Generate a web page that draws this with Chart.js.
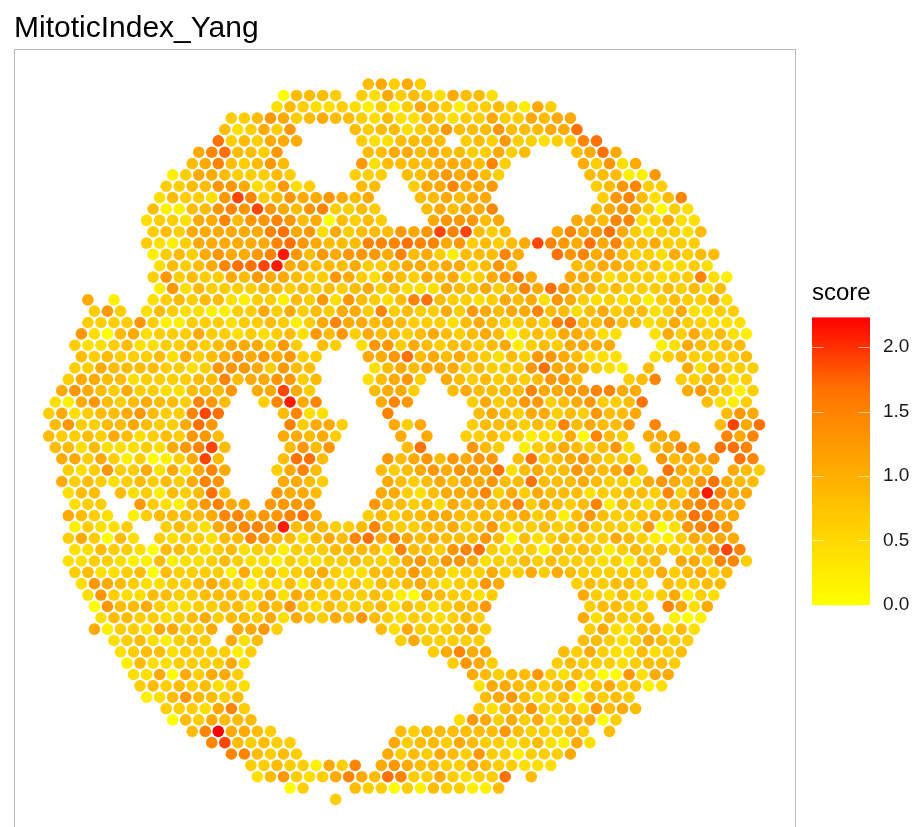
<!DOCTYPE html>
<html>
<head>
<meta charset="utf-8">
<title>MitoticIndex_Yang</title>
<script src="https://cdn.jsdelivr.net/npm/chart.js@4"></script>
<style>
html, body { margin: 0; padding: 0; background: #fff; overflow: hidden; }
canvas { display: block; }
</style>
</head>
<body>
<canvas id="spots" width="914" height="827"></canvas>
<script>
// first grid column of each row of spots
var rowStart = [24,18,17,14,13,13,11,11,9,9,8,8,7,8,7,8,8,8,8,3,3,3,2,2,2,2,1,1,0,0,0,0,0,1,1,1,1,2,1,2,1,2,1,2,2,3,3,4,3,5,5,6,6,7,7,9,9,11,12,14,15,16,18,22];

// one character per spot: hex digit = level of the score, "." = no spot
var rowScores = [
"45353",
"04443.32534325442",
"2432232131354313343153",
"334653454432422432335335455",
"423536....434423464446444558",
"8343555....3224444.34363323378",
"5784436......4455454433534...4585",
"45743464.....624444555473.....53625",
"1355433343....333.44565643......444116",
"334466523623...44..3557556.......346733",
"24332697346556545...445455........3674247",
"411446769654673343...454557.......45653032",
"2332557466764504343...566645.....5547723522",
"3435555557856253444656979434...575685323324",
"3213555555786544477787756343459765857445333",
"1343565567a646566657453144475..8675643325344",
"243457889a554445334554553464....44554342232",
"363433546554336532543545235675..5542333233721",
"16243333443434345342225445347586453433343424",
"5.1..234344213314362643247843323545265323231343352",
"363.2432211335353435537343353654557442453442352233",
"333363113332334313575545433324543343784464423533222",
"620452333533232342646354434543454134355422..25353421",
"322342233434555363.43.26635434434513435555...1254344",
"4343334253456565633...55684545432436654222..23433334",
"3354444332366653644....24545553433368555321.4..525333",
"35544233334474556634...24563.54343434664...347.334423",
"56543533224446.55953....4553..454444755667755...564313",
"21564345443764..37a57....576....35346634563348....4213",
"35234456433798....4722....7......4543553436445......465",
"4633445433586.....73553...535...3444343745446.7....4958",
"43343542343664....55453....5.5..3343312250743.555...757",
"44242223256794....4646.....48...643.134543462.4575.887",
"5535313013594....4884....645646566.4834564333.64556.87",
"3236335252575...3574....434565665824544654573.8544.543",
"5343234343576....5543....54345455644844454332565468544",
"244.423143484...6554....5532455573535444233443736a755",
"233..632146755.6666....64434254545735434714324467755",
"5432.134444577566785...34344554444453414643345458755",
"13223..343256776a4543347433445346333433533326026786",
"353042.323324476442454785754544464042343335431135455",
"2243320443234233133344442744367832331434313434324797",
"22332114122343221322334333564665233434333 23144.553773".replace(" ", ""),
"342234043333152423453224446442335335354333333534534",
"265432233454313241432424345323365.....343443.43344",
"26322443344443525434334310543323......53242235132",
"0644532233442546324333424323446.......34433.7525",
"244332345344352543546432332343.......524334.101",
"5133255335.5563.......425333453.......352244242",
"23421343.524..........3533333.......443235433",
"23442333313.............35755.....4353224234",
"1422333352...............3653....3433323443",
"225053553.................5434463243006255",
"343434232.................255443450453412",
"12464434..................456423404343",
"3332573.................3244633426454",
"0435444...............2653535235503",
"47b5543.........434444446433343.4",
"7943433.......5344354332342152",
"774343......534354363313335",
"334331537.56544335433222",
"24632357548733532338.4",
"03...433031433114",
"3"
];

// score per level of the characters above
var levelStep = 0.21;

// colour bar ticks and score range
var scoreTicks = [0, 0.5, 1, 1.5, 2];
var scoreMax = 2.23;
// green channel of the yellow to red ramp at 0, 1/4, 1/2, 3/4, 1 of the range
var rampGreen = [255, 212, 165, 115, 0];

function scoreColor(score) {
    var t = Math.min(score / scoreMax, 1) * (rampGreen.length - 1);
    var i = Math.min(Math.floor(t), rampGreen.length - 2);
    var g = rampGreen[i] + (rampGreen[i + 1] - rampGreen[i]) * (t - i);
    return 'rgb(255,' + Math.round(g) + ',0)';
}

var spots = [];
rowScores.forEach(function (scores, row) {
    for (var i = 0; i < scores.length; i++) {
        if (scores[i] === '.') continue;
        // odd rows sit half a column to the left
        spots.push({
            x: 2 * (rowStart[row] + i) - row % 2,
            y: row,
            score: parseInt(scores[i], 16) * levelStep
        });
    }
});

var panelAndBar = {
    id: 'panelAndBar',
    beforeDatasetsDraw: function (chart) {
        var ctx = chart.ctx, a = chart.chartArea;
        ctx.save();
        ctx.strokeStyle = '#b8b8b8';
        ctx.lineWidth = 1;
        ctx.strokeRect(a.left + 0.5, a.top + 0.5, a.right - a.left, a.bottom - a.top + 30);
        ctx.restore();
    },
    afterDraw: function (chart) {
        var ctx = chart.ctx, s = chart.scales.scoreAxis;
        var left = 812, right = 870;
        var y0 = s.getPixelForValue(0) + 0.5, y1 = s.getPixelForValue(scoreMax);
        var grad = ctx.createLinearGradient(0, y0, 0, y1);
        rampGreen.forEach(function (g, i) {
            grad.addColorStop(i / (rampGreen.length - 1), 'rgb(255,' + g + ',0)');
        });
        ctx.save();
        ctx.fillStyle = grad;
        ctx.fillRect(left, y1, right - left, y0 - y1);
        ctx.strokeStyle = 'rgba(255,255,255,0.55)';
        ctx.lineWidth = 1;
        scoreTicks.forEach(function (v) {
            var y = Math.round(s.getPixelForValue(v)) + 0.5;
            ctx.beginPath();
            ctx.moveTo(left, y); ctx.lineTo(left + 11.5, y);
            ctx.moveTo(right - 11.5, y); ctx.lineTo(right, y);
            ctx.stroke();
        });
        ctx.fillStyle = '#000';
        ctx.font = '24px "Liberation Sans"';
        ctx.fillText('score', 812, 300);
        ctx.restore();
    }
};

var chart = new Chart(document.getElementById('spots').getContext('2d'), {
    type: 'scatter',
    data: {
        datasets: [{
            label: 'score',
            data: spots,
            pointRadius: 5.8,
            pointBorderWidth: 0,
            pointBackgroundColor: function (c) { return scoreColor(c.raw.score); }
        }]
    },
    options: {
        responsive: false,
        animation: false,
        layout: { padding: { left: 14, right: 0, top: 0, bottom: 0 } },
        plugins: {
            legend: { display: false },
            tooltip: { enabled: false },
            title: {
                display: true,
                text: 'MitoticIndex_Yang',
                align: 'start',
                color: '#000',
                font: { family: '"Liberation Sans"', size: 30, weight: 'normal' },
                padding: { top: 11, bottom: 2 }
            }
        },
        scales: {
            x: { display: false, min: -6.334, max: 113.45 },
            y: { display: false, reverse: true, min: -3.09, max: 64.92 },
            scoreAxis: {
                position: 'right',
                min: -1.678,
                max: 4.312,
                afterBuildTicks: function (axis) {
                    axis.ticks = scoreTicks.map(function (v) { return { value: v }; });
                },
                // the label offset must not eat into the panel above and below
                afterFit: function (axis) {
                    axis.width = 119;
                    axis.paddingTop = 0;
                    axis.paddingBottom = 0;
                },
                grid: { display: false, drawTicks: false },
                border: { display: false },
                ticks: {
                    padding: 88,
                    color: '#1a1a1a',
                    font: { family: '"Liberation Sans"', size: 19 },
                    callback: function (v) { return v.toFixed(1); }
                }
            }
        }
    },
    plugins: [panelAndBar]
});
</script>
</body>
</html>
